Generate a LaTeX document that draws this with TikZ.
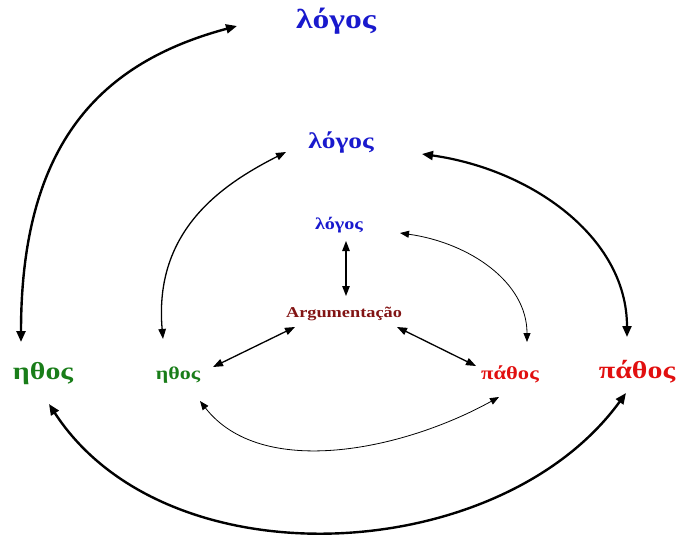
\documentclass[tikz,border=0pt]{standalone}
\usepackage{fontspec}
\setmainfont{Liberation Serif}
\usetikzlibrary{arrows.meta}
\definecolor{logblue}{RGB}{25,25,205}
\definecolor{ethgreen}{RGB}{25,125,25}
\definecolor{patred}{RGB}{225,15,15}
\definecolor{argred}{RGB}{130,20,20}
\newcommand{\wstretch}[1]{\scalebox{1.22}[1]{#1}}
\begin{document}
\begin{tikzpicture}[x=1pt,y=1pt,
  lbl/.style={inner sep=0pt, anchor=base},
  bigtip/.style={{Triangle[length=11pt,width=9pt]}-{Triangle[length=11pt,width=9pt]}},
  midtip/.style={{Triangle[length=10pt,width=7.5pt]}-{Triangle[length=10pt,width=7.5pt]}},
  smalltip/.style={{Triangle[length=9pt,width=7pt]}-{Triangle[length=9pt,width=7pt]}},
  outerarc/.style={bigtip, line width=2.4pt},
  midarc/.style={bigtip, line width=2.2pt},
  midthin/.style={midtip, line width=1.3pt},
  innerarc/.style={smalltip, line width=0.8pt},
  spoke/.style={midtip, line width=1.3pt}]
\useasboundingbox (0,0) rectangle (678,-535);
% labels
\node[lbl, text=logblue, font=\fontsize{27.5}{32}\selectfont\bfseries] (LT) at (336,-29) {\wstretch{λόγος}};
\node[lbl, text=logblue, font=\fontsize{22.5}{26}\selectfont\bfseries] (LM) at (341,-148) {\wstretch{λόγος}};
\node[lbl, text=logblue, font=\fontsize{16.5}{20}\selectfont\bfseries] (LS) at (339,-229) {\wstretch{λόγος}};
\node[lbl, text=argred, font=\fontsize{15}{18}\selectfont\bfseries] (ARG) at (344,-317) {\wstretch{Argumentação}};
\node[lbl, text=ethgreen, font=\fontsize{24.5}{28}\selectfont\bfseries] (EB) at (43,-379) {\wstretch{ηθος}};
\node[lbl, text=ethgreen, font=\fontsize{18}{22}\selectfont\bfseries] (EM) at (178,-379) {\wstretch{ηθος}};
\node[lbl, text=patred, font=\fontsize{18.5}{22}\selectfont\bfseries] (PM) at (510,-379) {\wstretch{πάθος}};
\node[lbl, text=patred, font=\fontsize{24.5}{28}\selectfont\bfseries] (PB) at (637,-378) {\wstretch{πάθος}};
% outer arcs
\draw[outerarc] ([shift={(-22,37)}]EB.base) to[out=90,in=195,out distance=200pt,in distance=140pt] ([shift={(-99,3)}]LT.base);
\draw[outerarc] ([shift={(6,-25)}]EB.base) to[out=-57,in=234,out distance=215pt,in distance=215pt] ([shift={(-11,-15)}]PB.base);
% middle arcs
\draw[midthin] ([shift={(-15,40)}]EM.base) to[out=95,in=207,out distance=110pt,in distance=70pt] ([shift={(-55,-4)}]LM.base);
\draw[midarc] ([shift={(81,-6)}]LM.base) to[out=-8,in=90,out distance=110pt,in distance=100pt] ([shift={(-10,41)}]PB.base);
% inner arcs
\draw[innerarc] ([shift={(61,-4)}]LS.base) to[out=-8,in=90,out distance=70pt,in distance=60pt] ([shift={(17,37)}]PM.base);
\draw[innerarc] ([shift={(22,-22)}]EM.base) to[out=-52,in=209,out distance=100pt,in distance=110pt] ([shift={(-11,-18)}]PM.base);
% spokes
\draw[spoke] ([shift={(7,-12)}]LS.base) -- ([shift={(2,21)}]ARG.base);
\draw[spoke] ([shift={(-49,-10)}]ARG.base) -- ([shift={(35,12)}]EM.base);
\draw[spoke] ([shift={(53,-10)}]ARG.base) -- ([shift={(-34,13)}]PM.base);
\end{tikzpicture}
\end{document}
